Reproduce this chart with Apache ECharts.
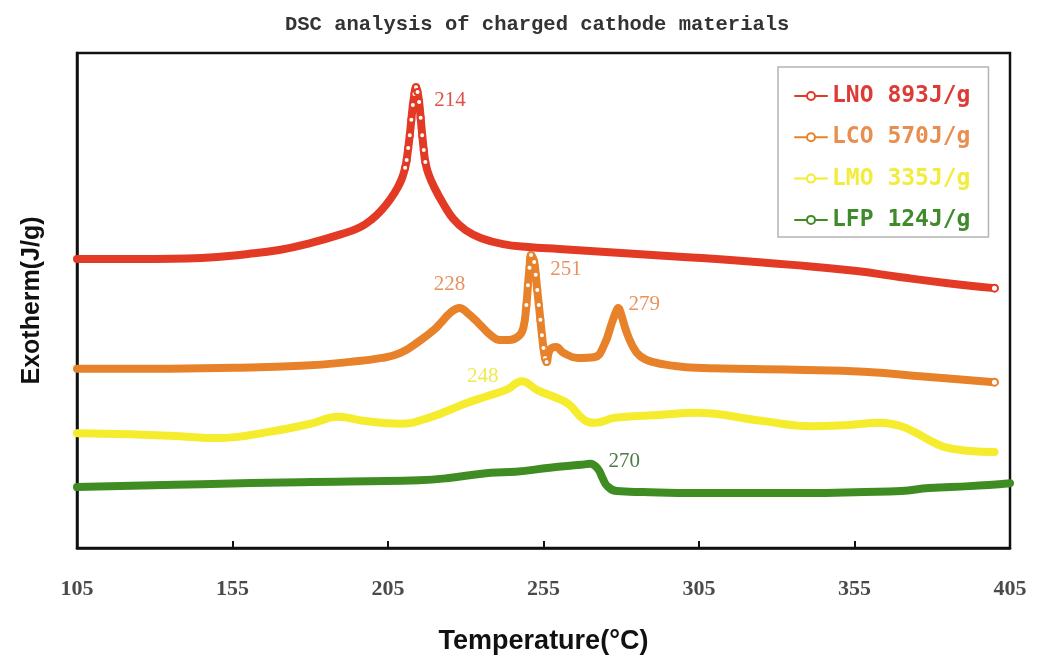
<!DOCTYPE html>
<html>
<head>
<meta charset="utf-8">
<script src="https://cdn.jsdelivr.net/npm/echarts@6/dist/echarts.min.js"></script>
<style>
  html, body { margin: 0; padding: 0; background: #fff; }
  #chart { width: 1047px; height: 660px; }
</style>
</head>
<body>
<div id="chart"></div>
<script>
// Temperature axis ticks (°C)
const TEMP_TICKS = [105, 155, 205, 255, 305, 355, 405];

// Cathode materials and their total heat release (J/g)
const MATERIALS = ['LNO', 'LCO', 'LMO', 'LFP'];
const HEAT_RELEASE = [893, 570, 335, 124];

// DSC traces: temperature (°C) and stacked heat-flow signal (arbitrary offset units)
const LNO_T = [105, 125, 145, 160, 170, 180, 190, 196, 200, 203, 206, 208, 209.5, 210.5, 211, 211.5, 212, 212.5, 213, 213.5, 214, 214.5, 215, 215.5, 216, 216.5, 217, 218, 220, 223, 226, 230, 235, 242, 250, 260, 270, 285, 300, 315, 335, 355, 370, 385, 400];
const LNO_Y = [58.4, 58.4, 58.6, 59.4, 60.2, 61.6, 63.4, 64.8, 66.5, 68.3, 70.7, 72.7, 74.7, 76.8, 78.4, 80.8, 83.4, 86.5, 89.5, 91.7, 93.1, 92.1, 90.1, 86.9, 83.4, 80.4, 78.0, 75.6, 72.7, 69.3, 66.5, 64.2, 62.6, 61.4, 60.8, 60.4, 60.0, 59.4, 58.8, 58.2, 57.2, 56.0, 54.7, 53.5, 52.5];

const LCO_T = [105, 130, 155, 177, 193, 203, 209, 215.5, 220, 222, 225, 228, 230.5, 234, 238, 241, 244, 247, 248.5, 249.5, 250, 250.5, 251, 252, 252.5, 253, 253.5, 254, 254.5, 255, 255.5, 256, 257, 259, 261.5, 266, 271.5, 274.5, 277, 278.3, 279, 280, 281.5, 283.5, 286, 290, 297, 304, 336, 358, 380, 400];
const LCO_Y = [36.2, 36.2, 36.4, 36.8, 37.6, 38.4, 39.4, 42.0, 44.2, 45.5, 47.5, 48.5, 47.5, 45.5, 43.0, 42.0, 42.0, 42.8, 44.4, 49.1, 53.1, 56.6, 59.2, 57.8, 55.2, 52.1, 49.1, 46.1, 43.0, 40.4, 38.4, 37.6, 40.0, 40.6, 39.4, 38.4, 38.6, 41.0, 45.5, 47.7, 48.5, 47.1, 44.0, 41.0, 38.8, 37.6, 36.8, 36.4, 36.0, 35.6, 34.5, 33.5];

const LMO_T = [105, 122, 138, 150, 168, 180, 189, 197, 209, 219, 229.5, 237, 243.5, 248, 253, 258.5, 263, 268, 271.5, 278, 293, 304, 325, 341, 352, 363, 370, 375, 379, 384, 392, 400];
const LMO_Y = [23.2, 23.0, 22.6, 22.2, 23.6, 25.1, 26.5, 25.7, 25.1, 26.5, 29.1, 30.7, 32.1, 33.7, 31.9, 30.5, 29.1, 25.9, 25.3, 26.3, 26.9, 27.3, 25.7, 24.6, 24.8, 25.3, 24.6, 23.2, 21.8, 20.4, 19.6, 19.4];

const LFP_T = [105, 145, 177, 215, 224, 238, 246, 257, 267, 270, 272.5, 274, 275.5, 278.5, 287, 304, 340, 358, 370, 379, 392, 405];
const LFP_Y = [12.3, 12.9, 13.3, 13.7, 14.1, 15.2, 15.4, 16.2, 16.8, 17.0, 16.0, 14.1, 12.5, 11.5, 11.3, 11.1, 11.1, 11.3, 11.5, 12.1, 12.5, 13.1];

// Peak temperatures annotated on each trace (°C)
const LNO_PEAKS = [214];
const LCO_PEAKS = [228, 251, 279];
const LMO_PEAKS = [248];
const LFP_PEAKS = [270];

// ---- styling ----
const LINE_COLORS   = ['#e23a24', '#e8822a', '#f4ec2c', '#3f8d22'];
const LEGEND_COLORS = ['#dd3b36', '#e88f4f', '#f2ec3c', '#3f8a2a'];
const PEAK_COLORS   = ['#e0504a', '#e8935e', '#f0e94e', '#4c7c48'];
const PEAK_OFFSETS  = [
  [[34, 13]],
  [[-10, -23], [35, 15], [26, -3]],
  [[-39, -5]],
  [[34, -2]]
];
// Steep stretches drawn with hollow markers, plus the closing point
const MARKED_RANGES = [[210.5, 217], [249.5, 256], null, null];
const END_MARKERS   = [true, true, false, false];

const X0 = TEMP_TICKS[0];
const X_STEP = TEMP_TICKS[1] - TEMP_TICKS[0];
const X_SPAN = TEMP_TICKS[TEMP_TICKS.length - 1] - X0;

const traces = [
  { t: LNO_T, y: LNO_Y, peaks: LNO_PEAKS },
  { t: LCO_T, y: LCO_Y, peaks: LCO_PEAKS },
  { t: LMO_T, y: LMO_Y, peaks: LMO_PEAKS },
  { t: LFP_T, y: LFP_Y, peaks: LFP_PEAKS }
];

const names = MATERIALS.map((m, i) => m + ' ' + HEAT_RELEASE[i] + 'J/g');

const series = traces.map((tr, i) => {
  const data = tr.t.map((t, k) => [t - X0, tr.y[k]]);
  const range = MARKED_RANGES[i];
  const last = tr.t[tr.t.length - 1];
  const markData = tr.peaks.map((p, k) => {
    const idx = tr.t.indexOf(p);
    return {
      coord: [p - X0, tr.y[idx]],
      value: p,
      label: { offset: PEAK_OFFSETS[i][k] }
    };
  });
  return {
    name: names[i],
    type: 'line',
    data: data,
    smooth: 0.45,
    symbol: 'emptyCircle',
    showSymbol: true,
    showAllSymbol: true,
    symbolSize: function (val) {
      const t = val[0] + X0;
      if (range && t >= range[0] && t <= range[1]) return 6;
      if (END_MARKERS[i] && t === last) return 7;
      return 0;
    },
    itemStyle: { color: LINE_COLORS[i], borderWidth: 1.5 },
    lineStyle: { color: LINE_COLORS[i], width: 8, cap: 'round', join: 'round' },
    emphasis: { disabled: true },
    markPoint: {
      symbol: 'circle',
      symbolSize: 0,
      itemStyle: { color: 'rgba(0,0,0,0)' },
      label: {
        show: true,
        position: 'inside',
        formatter: (p) => String(p.value),
        color: PEAK_COLORS[i],
        fontFamily: 'Liberation Serif',
        fontSize: 21
      },
      data: markData
    }
  };
});

const chart = echarts.init(document.getElementById('chart'), null, { renderer: 'canvas' });
chart.setOption({
  animation: false,
  backgroundColor: '#ffffff',
  title: {
    text: 'DSC analysis of charged cathode materials',
    left: 280,
    top: 9,
    textStyle: {
      fontFamily: 'Liberation Mono',
      fontWeight: 'bold',
      fontSize: 20.5,
      color: '#333'
    }
  },
  legend: {
    orient: 'vertical',
    left: 778,
    top: 67,
    padding: [16, 18, 4, 16],
    itemGap: 15.3,
    itemWidth: 32,
    itemHeight: 10,
    borderColor: '#b4b4b4',
    borderWidth: 1.5,
    backgroundColor: '#fff',
    lineStyle: { width: 2 },
    textStyle: {
      fontFamily: 'DejaVu Sans Mono',
      fontWeight: 'bold',
      fontSize: 23,
      lineHeight: 26
    },
    data: names.map((n, i) => ({ name: n, textStyle: { color: LEGEND_COLORS[i] } }))
  },
  grid: {
    left: 77,
    right: 37,
    top: 53,
    bottom: 112,
    show: true,
    borderColor: '#111',
    borderWidth: 2.5,
    containLabel: false
  },
  xAxis: {
    type: 'value',
    min: 0,
    max: X_SPAN,
    interval: X_STEP,
    name: 'Temperature(°C)',
    nameLocation: 'middle',
    nameGap: 80,
    nameTextStyle: {
      fontFamily: 'Liberation Sans Narrow, Liberation Sans',
      fontWeight: 'bold',
      fontSize: 27,
      color: '#111'
    },
    axisLine: { lineStyle: { color: '#111', width: 2.5 } },
    axisTick: { inside: true, length: 7, lineStyle: { color: '#111', width: 2 } },
    axisLabel: {
      margin: 30,
      formatter: (v) => String(v + X0),
      fontFamily: 'Liberation Serif',
      fontWeight: 'bold',
      fontSize: 22,
      color: '#4a4a4a'
    },
    splitLine: { show: false }
  },
  yAxis: {
    type: 'value',
    min: 0,
    max: 100,
    name: 'Exotherm(J/g)',
    nameLocation: 'middle',
    nameGap: 32,
    nameTextStyle: {
      fontFamily: 'Liberation Sans Narrow, Liberation Sans',
      fontWeight: 'bold',
      fontSize: 25,
      color: '#111'
    },
    axisLine: { show: true, lineStyle: { color: '#111', width: 2.5 } },
    axisTick: { show: false },
    axisLabel: { show: false },
    splitLine: { show: false }
  },
  series: series
});
</script>
</body>
</html>
